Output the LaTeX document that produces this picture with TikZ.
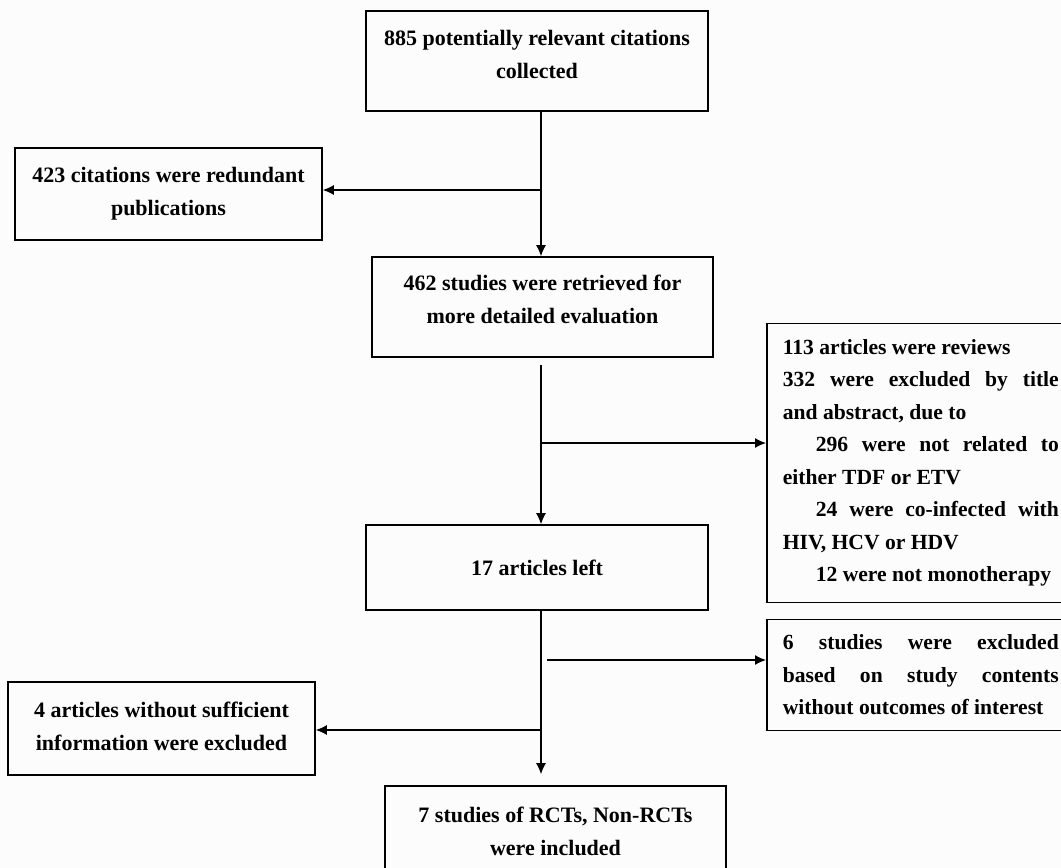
\documentclass[tikz,border=0pt]{standalone}
\usepackage{fontspec}
\setmainfont{Liberation Serif}
\usetikzlibrary{arrows.meta}
\definecolor{paper}{RGB}{252,252,253}
\newcommand\nohyph{\hyphenpenalty=10000 }

\begin{document}
\begin{tikzpicture}[x=1pt, y=-1pt,
  box/.style={draw, line width=1.6pt, align=center, inner sep=0pt,
    font=\fontsize{22}{33}\selectfont\bfseries},
  sidebox/.style={box, anchor=west, align=justify, text width=276pt, inner xsep=16pt,
    font={\fontsize{21.6}{32.5}\selectfont\bfseries\nohyph}},
  arr/.style={line width=1.3pt, -{Latex[length=11pt,width=10pt]}}]
\useasboundingbox (0,0) rectangle (1061,868);
\fill[paper] (0,0) rectangle (1061,868);
\clip (0,0) rectangle (1061,868);

\node[box, minimum width=342pt, minimum height=100pt, text depth=14pt] (cite) at (537,61)
  {885 potentially relevant citations\\collected};
\node[box, minimum width=307pt, minimum height=92pt] (redund) at (168.5,194)
  {423 citations were redundant\\publications};
\node[box, minimum width=341pt, minimum height=100pt, text depth=16pt] (retr) at (542.5,307)
  {462 studies were retrieved for\\more detailed evaluation};
\node[sidebox, minimum height=279pt] (excl) at (766,463)
  {113 articles were reviews\par
   332 were excluded by title\linebreak and abstract, due to\par
   \hspace*{33pt}296 were not related to\linebreak either TDF or ETV\par
   \hspace*{33pt}24 were co-infected with\linebreak HIV, HCV or HDV\par
   \hspace*{33pt}12 were not monotherapy};
\node[box, minimum width=342pt, minimum height=85pt] (left) at (537,567.5)
  {17 articles left};
\node[sidebox, minimum height=111pt] (six) at (766,675)
  {6 studies were excluded\linebreak based on study contents\linebreak without outcomes of interest};
\node[box, minimum width=307pt, minimum height=93pt, text depth=5pt] (insuff) at (161.5,728.5)
  {4 articles without sufficient\\information were excluded};
\node[box, minimum width=341pt, minimum height=90pt] (incl) at (555.5,831)
  {7 studies of RCTs, Non-RCTs\\were included};

\coordinate (spine) at (541,0);
\coordinate (b1) at (541,190);
\coordinate (b2) at (541,443);
\coordinate (b3) at (547,660);
\coordinate (b4) at (542,730);

\draw[arr] (cite.south -| spine) -- (retr.north -| spine);
\draw[arr] (b1) -- (b1 -| redund.east);
\draw[arr] ([yshift=-7pt]retr.south -| spine) -- (left.north -| spine);
\draw[arr] (b2) -- (b2 -| excl.west);
\draw[arr] (left.south -| spine) -- ([yshift=11pt]incl.north -| spine);
\draw[arr] (b3) -- (b3 -| six.west);
\draw[arr] (b4) -- (b4 -| insuff.east);
\end{tikzpicture}
\end{document}
